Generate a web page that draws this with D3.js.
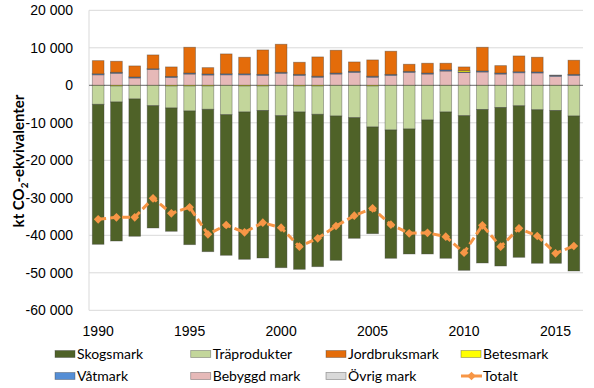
<!DOCTYPE html>
<html lang="sv">
<head>
<meta charset="UTF-8">
<title>Markanvändning</title>
<style>
  body { margin: 0; background: #fff; }
  svg { display: block; font-family: Lato, "Liberation Sans", sans-serif; }
  .tick text { fill: #000; font-size: 14px; }
  .legend text { font-size: 14px; fill: #000; }
</style>
</head>
<body>
<svg id="chart" width="594" height="388"></svg>
<script src="https://cdn.jsdelivr.net/npm/d3@7"></script>
<script>
// values, kt CO2-eq
const years = [1990, 1991, 1992, 1993, 1994, 1995, 1996, 1997, 1998, 1999,
  2000, 2001, 2002, 2003, 2004, 2005, 2006, 2007, 2008, 2009,
  2010, 2011, 2012, 2013, 2014, 2015, 2016];
const skogsmark = [-37330, -37070, -36610, -32610, -32880, -35650, -37970, -37490, -39280, -39330,
  -40530, -41950, -40640, -38480, -32160, -28450, -34210, -33330, -35730, -39010,
  -41230, -40930, -42270, -40400, -40930, -40750, -41330];
const traprodukter = [-5020, -4250, -3600, -5390, -5850, -6650, -6200, -7790, -6920, -6520,
  -8060, -6920, -7530, -8140, -8590, -10920, -11870, -11600, -9200, -7070,
  -8110, -6400, -5870, -5420, -6480, -6670, -8140];
const jordbruksmark = [3510, 2950, 2950, 3680, 2530, 6880, 1690, 5300, 4420, 6510,
  7480, 3230, 5150, 6080, 2510, 4350, 6170, 1900, 2620, 1770,
  980, 6330, 1980, 4210, 3920, 30, 3770];
const betesmark = [-50, -200, -50, -50, -200, -200, -200, -50, -200, -200,
  -50, -200, -200, -50, -50, -200, -50, -50, -50, -50,
  350, -50, -50, -50, -50, -50, -50];
const vatmark = [250, 250, 250, 150, 250, 250, 250, 250, 250, 250,
  250, 250, 250, 250, 250, 250, 250, 250, 250, 300,
  100, 250, 250, 250, 250, 250, 250];
const bebyggdMark = [2800, 3200, 1950, 4250, 2100, 3000, 2750, 2800, 2800, 2650,
  3200, 2650, 2150, 3000, 3450, 2150, 2650, 3450, 3000, 3800,
  3450, 3550, 3000, 3350, 3300, 2400, 2650];
const ovrigMark = [20, 20, 20, 20, 20, 20, 20, 20, 20, 20,
  20, 20, 20, 20, 20, 20, 20, 20, 20, 20,
  20, 20, 20, 20, 20, 20, 20];
const totalt = [-35730, -35200, -35200, -30130, -34130, -32530, -39730, -37250, -39200, -36640,
  -37970, -43040, -40800, -37520, -34770, -32800, -37170, -39470, -39330, -40370,
  -44640, -37330, -43040, -38130, -40190, -44800, -42850];
const yTicks = [20000, 10000, 0, -10000, -20000, -30000, -40000, -50000, -60000];
const xTicks = [1990, 1995, 2000, 2005, 2010, 2015];

const series = [
  { key: "Skogsmark", values: skogsmark, color: "#4f6228" },
  { key: "Träprodukter", values: traprodukter, color: "#c3d69b" },
  { key: "Jordbruksmark", values: jordbruksmark, color: "#e46c0a" },
  { key: "Betesmark", values: betesmark, color: "#ffff00" },
  { key: "Våtmark", values: vatmark, color: "#558ed5" },
  { key: "Bebyggd mark", values: bebyggdMark, color: "#e6b9b8" },
  { key: "Övrig mark", values: ovrigMark, color: "#d9d9d9" }
];
const colorOf = {};
series.forEach(s => colorOf[s.key] = s.color);

// stacking order as drawn: positives pink, blue, grey, yellow, orange; negatives yellow, light green, dark green
const stackOrder = ["Bebyggd mark", "Våtmark", "Övrig mark", "Betesmark", "Träprodukter", "Skogsmark", "Jordbruksmark"];

const rows = years.map((yr, i) => {
  const r = { year: yr };
  series.forEach(s => r[s.key] = s.values[i]);
  return r;
});

const svg = d3.select("#chart");
const plotL = 89, plotR = 583, plotT = 10.3, plotB = 310.3;

const x = d3.scaleBand().domain(years).range([plotL, plotR])
  .paddingInner(0.36).paddingOuter(0.18);
const y = d3.scaleLinear().domain([-60000, 20000]).range([plotB, plotT]);

const sv = d3.formatLocale({ decimal: ",", thousands: " ", grouping: [3], currency: ["", ""], minus: "-" });
const fmt = sv.format(",d");

// gridlines
svg.append("g").selectAll("line").data(yTicks.filter(d => d !== 0)).join("line")
  .attr("x1", plotL).attr("x2", plotR)
  .attr("y1", d => y(d)).attr("y2", d => y(d))
  .attr("stroke", "#d9d9d9").attr("stroke-width", 1);
svg.append("line")
  .attr("x1", plotL).attr("x2", plotL).attr("y1", plotT).attr("y2", plotB)
  .attr("stroke", "#d9d9d9");
svg.append("line")
  .attr("x1", plotL).attr("x2", plotR).attr("y1", y(0)).attr("y2", y(0))
  .attr("stroke", "#888").attr("stroke-width", 1.3);

// y axis
const yAxis = svg.append("g").attr("transform", `translate(${plotL},0)`)
  .call(d3.axisLeft(y).tickValues(yTicks).tickFormat(fmt).tickSize(0).tickPadding(16));
yAxis.select(".domain").remove();

// x axis
const xAxis = svg.append("g").attr("transform", `translate(0,${plotB})`)
  .call(d3.axisBottom(x).tickValues(xTicks).tickSize(0).tickPadding(16));
xAxis.select(".domain").remove();

// stacked bars
const stacked = d3.stack().keys(stackOrder).offset(d3.stackOffsetDiverging)(rows);
svg.append("g").selectAll("g").data(stacked).join("g")
  .attr("fill", d => colorOf[d.key])
  .selectAll("rect").data(d => d).join("rect")
  .attr("x", d => x(d.data.year))
  .attr("width", x.bandwidth())
  .attr("y", d => y(Math.max(d[0], d[1])))
  .attr("height", d => Math.abs(y(d[0]) - y(d[1])))
  .attr("stroke", "rgba(60,60,60,0.45)")
  .attr("stroke-width", 0.8);

// Totalt line
const cx = d => x(d) + x.bandwidth() / 2;
const line = d3.line().x((d, i) => cx(years[i])).y(d => y(d));
svg.append("path").datum(totalt)
  .attr("d", line)
  .attr("fill", "none")
  .attr("stroke", "#f79646")
  .attr("stroke-width", 3)
  .attr("stroke-dasharray", "8,4");
const diamond = d3.symbol().type(d3.symbolDiamond2).size(48);
svg.append("g").selectAll("path").data(totalt).join("path")
  .attr("d", diamond)
  .attr("transform", (d, i) => `translate(${cx(years[i])},${y(d)})`)
  .attr("fill", "#f79646");

// y title
const yt = svg.append("text")
  .attr("transform", "translate(24,161) rotate(-90)")
  .attr("text-anchor", "middle")
  .attr("font-size", 15).attr("font-weight", "bold");
yt.append("tspan").text("kt CO");
yt.append("tspan").attr("font-size", 10).attr("dy", 4).text("2");
yt.append("tspan").attr("dy", -4).text("-ekvivalenter");

// legend
const legendItems = ["Skogsmark", "Träprodukter", "Jordbruksmark", "Betesmark",
  "Våtmark", "Bebyggd mark", "Övrig mark", "Totalt"];
const colX = [55, 190.7, 326, 461];
const rowY = [354, 376];
const lg = svg.append("g").attr("class", "legend").selectAll("g").data(legendItems).join("g")
  .attr("transform", (d, i) => `translate(${colX[i % 4]},${rowY[Math.floor(i / 4)]})`);
lg.each(function(d) {
  const g = d3.select(this);
  if (d === "Totalt") {
    g.append("line").attr("x1", 0).attr("x2", 21).attr("y1", 0).attr("y2", 0)
      .attr("stroke", "#f79646").attr("stroke-width", 3);
    g.append("path").attr("d", diamond).attr("transform", "translate(10.5,0)").attr("fill", "#f79646");
  } else {
    g.append("rect").attr("x", 0).attr("y", -3.5).attr("width", 20).attr("height", 7)
      .attr("fill", colorOf[d]).attr("stroke", "rgba(60,60,60,0.45)").attr("stroke-width", 0.8);
  }
  g.append("text").attr("x", 22).attr("dy", "0.35em").text(d);
});
</script>
</body>
</html>
